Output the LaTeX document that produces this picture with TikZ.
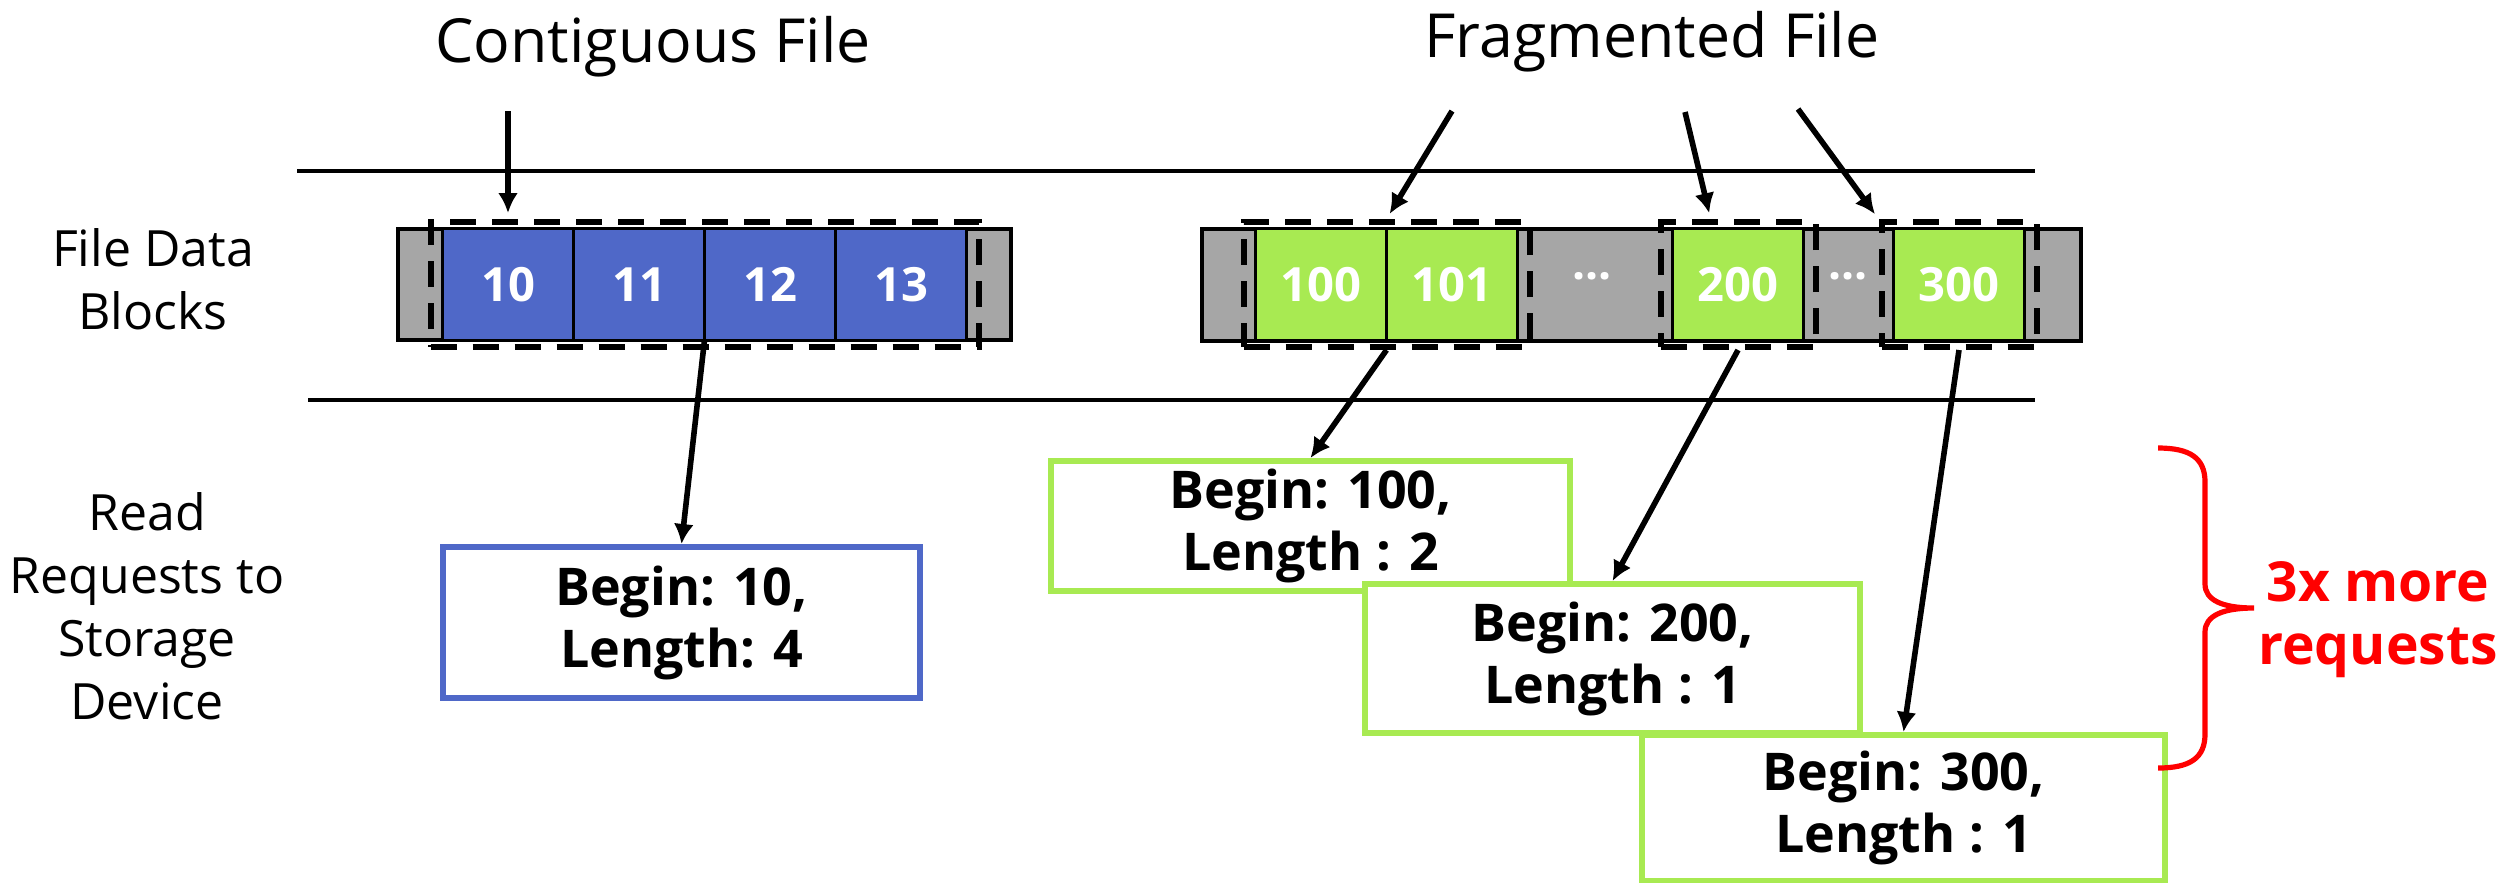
\documentclass[tikz,border=0pt]{standalone}
\usepackage{fontspec}
\setmainfont{Open Sans}
\usetikzlibrary{arrows.meta,positioning,fit,calc}

\definecolor{blkblue}{RGB}{79,104,200}
\definecolor{blkgreen}{RGB}{168,234,82}
\definecolor{blkgray}{RGB}{166,166,166}

\begin{document}
\begin{tikzpicture}[x=0.25pt,y=0.25pt,yscale=-1,xscale=1,
  lbl/.style={font=\fontsize{12.5}{15.75}\selectfont,align=center},
  hdr/.style={font=\fontsize{15.2}{18}\selectfont,anchor=base},
  strip/.style={draw=black,fill=blkgray,line width=0.9pt},
  cell/.style={draw=black,fill=#1,line width=0.6pt,outer sep=0pt,inner sep=0pt,minimum width=32.75pt,minimum height=27.75pt,text=white,font=\fontsize{11.8}{14}\selectfont\bfseries},
  dots/.style={text=white,font=\fontsize{11.5}{14}\selectfont\bfseries},
  grp/.style={draw=black,dash pattern=on 6.5pt off 4pt,line width=1.5pt,inner xsep=3pt,inner ysep=1.75pt},
  req/.style={draw=#1,fill=white,line width=1.5pt,align=center,inner sep=0pt,font=\fontsize{13}{15.5}\selectfont\bfseries},
  arr/.style={-{Latex[length=5pt,width=5pt]},line width=1.4pt}]
\path[use as bounding box] (0,0) rectangle (2504,882);

% Text Node
\draw (653,62) node [hdr] (hdrcont) {Contiguous File};
% Text Node
\draw (1652,57) node [hdr] (hdrfrag) {Fragmented File};
% Text Node
\draw (153,279) node [lbl] (lblblocks) {File Data\\Blocks};
% Text Node
\draw (147,606) node [lbl] (lblreqs) {Read\\Requests to\\Storage\\Device};

%Straight Lines
\draw [line width=0.9pt] (297,171) -- (2035,171) ;
%Straight Lines
\draw [line width=0.9pt] (308,400) -- (2035,400) ;

%Shape: Rectangle
\draw [strip] (398,229) rectangle (1011,340) ;
\node [cell=blkblue] (c10) at (508,284.5) {10};
\node [cell=blkblue,right=0pt of c10] (c11) {11};
\node [cell=blkblue,right=0pt of c11] (c12) {12};
\node [cell=blkblue,right=0pt of c12] (c13) {13};

%Shape: Rectangle
\draw [strip] (1202,229) rectangle (2081,341) ;
\node [cell=blkgreen] (c100) at (1321,284.5) {100};
\node [cell=blkgreen,right=0pt of c100] (c101) {101};
\node [dots] (gap1) at (1592,282) {···};
\node [cell=blkgreen] (c200) at (1738,284.5) {200};
\node [dots] (gap2) at (1848,282) {···};
\node [cell=blkgreen] (c300) at (1959,284.5) {300};

% dashed groups = one read request each
\node [grp,fit=(c10)(c13)] (grp0) {};
\node [grp,fit=(c100)(c101)] (grp1) {};
\node [grp,fit=(c200)] (grp2) {};
\node [grp,fit=(c300)] (grp3) {};

% file -> blocks
\coordinate (src0) at (508,111);
\coordinate (src1) at (1452,111);
\coordinate (src2) at (1685,112);
\coordinate (src3) at (1798,109);
\draw [arr,shorten >=1.5pt] (src0) -- (c10 |- grp0.north) ;
\draw [arr,shorten >=1.5pt] (src1) -- (c100.east |- grp1.north) ;
\draw [arr,shorten >=1.5pt] (src2) -- ($(grp2.north west)!0.33!(grp2.north east)$) ;
\draw [arr,shorten >=1.5pt] (src3) -- (grp3.north west) ;

% requests
\node [req=blkblue,minimum width=119.25pt,minimum height=37.75pt] (req0) at (681.5,622.5) {Begin: 10,\\Length: 4};
\node [req=blkgreen,minimum width=129.75pt,minimum height=32.5pt] (req1) at (1310.5,526) {Begin: 100,\\Length : 2};
\node [req=blkgreen,minimum width=123.75pt,minimum height=37.25pt] (req2) at (1612.5,658.5) {Begin: 200,\\Length : 1};
\node [req=blkgreen,minimum width=130.75pt,minimum height=36.5pt] (req3) at (1903.5,808) {Begin: 300,\\Length : 1};

% blocks -> requests
\draw [arr] (c12.south west) -- (req0.north) ;
\draw [arr] (c100.east |- grp1.south) -- (req1.north) ;
\draw [arr] (c200 |- grp2.south) -- (req2.north) ;
\draw [arr] (c300 |- grp3.south) -- (req3.north) ;

%Curve Lines
\draw [red,line width=1.3pt] (2158,448) .. controls (2190,448) and (2205,458) .. (2205,482) -- (2205,584) .. controls (2205,600) and (2222,608) .. (2254,608) .. controls (2222,608) and (2205,616) .. (2205,632) -- (2205,734) .. controls (2205,758) and (2190,768) .. (2158,768) ;
% Text Node
\draw (2378,620) node [lbl,text=red,font=\fontsize{13.8}{15.75}\selectfont\bfseries] (lblmore) {3x more\\requests};

\end{tikzpicture}
\end{document}
